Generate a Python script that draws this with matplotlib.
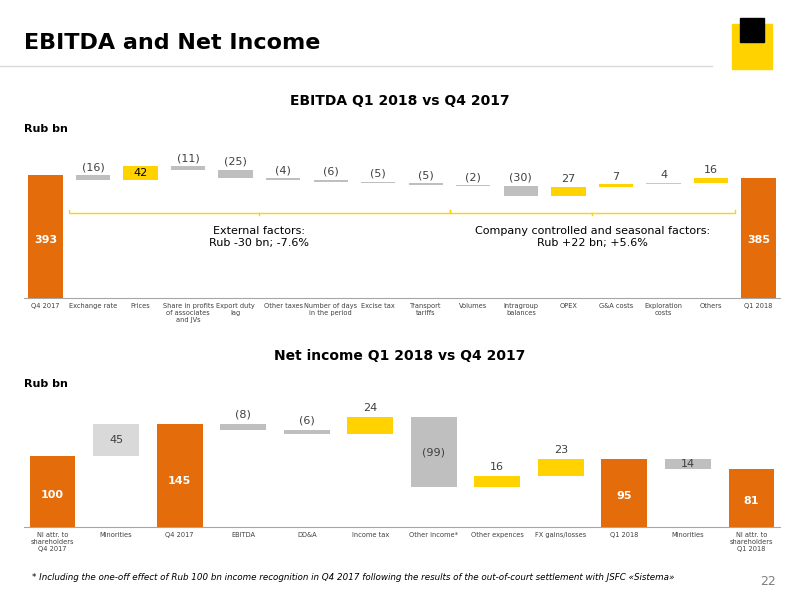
import matplotlib.pyplot as plt
from matplotlib.patches import Rectangle

ORANGE = '#E46C0A'
YELLOW = '#FFD200'
GREY = '#BFBFBF'

# EBITDA bridge
e_cats = ['Q4 2017', 'Exchange rate', 'Prices', 'Share in profits\nof associates\nand JVs', 'Export duty\nlag',
          'Other taxes', 'Number of days\nin the period', 'Excise tax', 'Transport\ntariffs', 'Volumes',
          'Intragroup\nbalances', 'OPEX', 'G&A costs', 'Exploration\ncosts', 'Others', 'Q1 2018']
e_vals = [393, -16, 42, -11, -25, -4, -6, -5, -5, -2, -30, 27, 7, 4, 16, 385]
e_cols = [ORANGE, GREY, YELLOW, GREY, GREY, GREY, GREY, GREY, GREY, GREY, GREY, YELLOW, YELLOW, YELLOW, YELLOW, ORANGE]

# Net income bridge
n_cats = ['NI attr. to\nshareholders\nQ4 2017', 'Minorities', 'Q4 2017', 'EBITDA', 'DD&A', 'Income tax',
          'Other income*', 'Other expences', 'FX gains/losses', 'Q1 2018', 'Minorities', 'NI attr. to\nshareholders\nQ1 2018']
n_vals = [100, 45, 145, -8, -6, 24, -99, 16, 23, 95, -14, 81]
n_total = [True, False, True, False, False, False, False, False, False, True, False, True]
n_cols = [ORANGE, '#D9D9D9', ORANGE, GREY, GREY, YELLOW, GREY, YELLOW, YELLOW, ORANGE, GREY, ORANGE]


def fmt(v):
    return f'({abs(v)})' if v < 0 else f'{v}'


fig = plt.figure(figsize=(8, 6), dpi=100)
fig.text(0.03, 0.928, 'EBITDA and Net Income', fontsize=16, fontweight='bold', va='center')
fig.add_artist(plt.Line2D([0, 0.89], [0.89, 0.89], color='#D9D9D9', lw=1))
fig.text(0.5, 0.825, 'EBITDA Q1 2018 vs Q4 2017', fontsize=10, fontweight='bold', ha='center')
fig.text(0.03, 0.78, 'Rub bn', fontsize=8, fontweight='bold')
fig.text(0.5, 0.4, 'Net income Q1 2018 vs Q4 2017', fontsize=10, fontweight='bold', ha='center')
fig.text(0.03, 0.355, 'Rub bn', fontsize=8, fontweight='bold')
fig.text(0.04, 0.033, '* Including the one-off effect of Rub 100 bn income recognition in Q4 2017 following the results of the out-of-court settlement with JSFC «Sistema»',
         fontsize=6.3, style='italic')
fig.text(0.97, 0.025, '22', fontsize=9, color='#7F7F7F', ha='right')
# simple logo
fig.add_artist(Rectangle((0.915, 0.885), 0.05, 0.075, color=YELLOW, transform=fig.transFigure))
fig.add_artist(Rectangle((0.925, 0.93), 0.03, 0.04, color='black', transform=fig.transFigure))

# top chart
ax = fig.add_axes([0.03, 0.503, 0.945, 0.247])
cum = 0
for i, (v, c) in enumerate(zip(e_vals, e_cols)):
    if i == 0 or i == len(e_vals) - 1:
        ax.bar(i, v - 30, bottom=30, color=c, width=0.72)
        ax.text(i, 200, str(v), color='white', fontweight='bold', ha='center', va='center', fontsize=8)
        cum = v
    else:
        lo = min(cum, cum + v)
        ax.bar(i, abs(v), bottom=lo, color=c, width=0.72)
        top = max(cum, cum + v)
        if c == YELLOW and v > 30:
            ax.text(i, lo + abs(v) / 2, fmt(v), ha='center', va='center', fontsize=8)
        else:
            ax.text(i, top + 8, fmt(v), ha='center', va='bottom', fontsize=8, color='#404040')
        cum += v
for x0, x1 in [(0.5, 8.5), (8.5, 14.5)]:
    xm = (x0 + x1) / 2
    ax.plot([x0, x0, x1, x1], [290, 282, 282, 290], color=YELLOW, lw=1)
    ax.plot([xm, xm], [282, 275], color=YELLOW, lw=1)
ax.text(4.5, 210, 'External factors:\nRub -30 bn; -7.6%', ha='center', va='center', fontsize=8)
ax.text(11.5, 210, 'Company controlled and seasonal factors:\nRub +22 bn; +5.6%', ha='center', va='center', fontsize=8)
ax.set_ylim(30, 466)
ax.set_xlim(-0.45, len(e_vals) - 0.55)
ax.set_xticks(range(len(e_cats)))
ax.set_xticklabels(e_cats, fontsize=4.8, color='#404040', va='top')
ax.set_yticks([])
ax.tick_params(axis='x', length=0)
for s in ['top', 'left', 'right']:
    ax.spines[s].set_visible(False)
ax.spines['bottom'].set_color('#A6A6A6')

# bottom chart
ax2 = fig.add_axes([0.03, 0.122, 0.945, 0.228])
cum = 0
for i, (v, c, t) in enumerate(zip(n_vals, n_cols, n_total)):
    if t:
        ax2.bar(i, v, color=c, width=0.72)
        ax2.text(i, v * 0.45, str(v), color='white', fontweight='bold', ha='center', va='center', fontsize=8)
        cum = v
    else:
        lo = min(cum, cum + v)
        ax2.bar(i, abs(v), bottom=lo, color=c, width=0.72)
        label = str(abs(v)) if i == 10 else fmt(v)
        if abs(v) >= 14 and c != YELLOW:
            ax2.text(i, lo + abs(v) / 2, label, ha='center', va='center', fontsize=8, color='#404040')
        else:
            ax2.text(i, lo + abs(v) + 6, label, ha='center', va='bottom', fontsize=8, color='#404040')
        cum += v
ax2.set_ylim(0, 193)
ax2.set_xlim(-0.45, len(n_vals) - 0.55)
ax2.set_xticks(range(len(n_cats)))
ax2.set_xticklabels(n_cats, fontsize=4.8, color='#404040', va='top')
ax2.set_yticks([])
ax2.tick_params(axis='x', length=0)
for s in ['top', 'left', 'right']:
    ax2.spines[s].set_visible(False)
ax2.spines['bottom'].set_color('#A6A6A6')

fig.savefig('out.png', dpi=100)
